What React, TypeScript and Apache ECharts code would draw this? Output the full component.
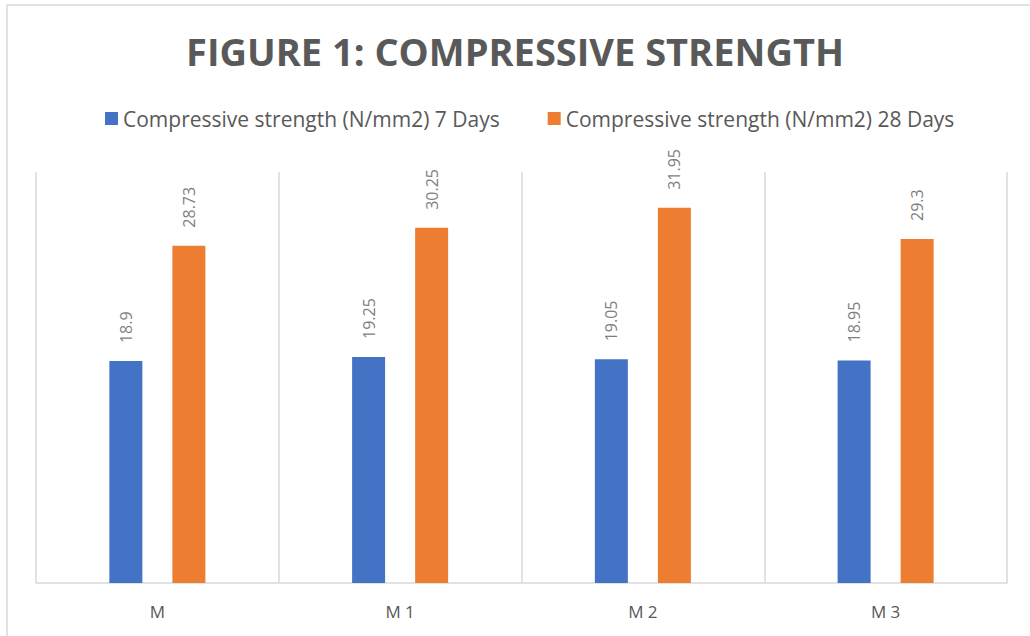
import React, { useEffect, useRef } from "react";
import * as echarts from "echarts";

const categories = ["M", "M 1", "M 2", "M 3"];
const seriesNames = [
  "Compressive strength (N/mm2) 7 Days",
  "Compressive strength (N/mm2) 28 Days",
];
const days7 = [18.9, 19.25, 19.05, 18.95];
const days28 = [28.73, 30.25, 31.95, 29.3];
const titleText = "FIGURE 1: COMPRESSIVE STRENGTH";

export default function App() {
  const ref = useRef<HTMLDivElement>(null);
  useEffect(() => {
    if (!ref.current) return;
    const chart = echarts.init(ref.current, undefined, { renderer: "svg" });
    const label = {
      show: true,
      position: "top",
      rotate: 90,
      align: "left",
      verticalAlign: "middle",
      distance: 18,
      color: "#7f7f7f",
      fontSize: 16,
      fontFamily: "Open Sans",
    };
    chart.setOption({
      animation: false,
      backgroundColor: "#ffffff",
      title: {
        text: titleText,
        left: "center",
        top: 27,
        textStyle: {
          fontFamily: "Open Sans",
          fontWeight: "bold",
          fontSize: 38,
          color: "#595959",
        },
      },
      legend: {
        top: 103,
        left: 100,
        itemWidth: 13,
        itemHeight: 13,
        itemGap: 48,
        icon: "rect",
        textStyle: {
          fontFamily: "Open Sans",
          fontSize: 21,
          color: "#595959",
        },
        data: seriesNames,
      },
      graphic: [
        {
          type: "rect",
          shape: { x: 7, y: 5, width: 1200, height: 800 },
          style: { fill: "none", stroke: "#d9d9d9", lineWidth: 1.5 },
          silent: true,
        },
      ],
      grid: { left: 36, right: 23, top: 172, bottom: 53 },
      xAxis: {
        type: "category",
        data: categories,
        axisLine: { lineStyle: { color: "#d9d9d9", width: 1.5 } },
        axisTick: { show: false },
        splitLine: { show: true, lineStyle: { color: "#d9d9d9", width: 1.5 } },
        axisLabel: {
          color: "#595959",
          fontSize: 17,
          fontFamily: "Open Sans",
          margin: 20,
        },
      },
      yAxis: {
        type: "value",
        min: 0,
        max: 35,
        interval: 5,
        axisLabel: { show: false },
        axisLine: { show: false },
        axisTick: { show: false },
        splitLine: { show: false },
      },
      series: [
        {
          name: seriesNames[0],
          type: "bar",
          data: days7,
          barWidth: 33,
          barGap: "91%",
          itemStyle: { color: "#4472C4" },
          label,
        },
        {
          name: seriesNames[1],
          type: "bar",
          data: days28,
          barWidth: 33,
          itemStyle: { color: "#ED7D31" },
          label,
        },
      ],
    });
    return () => chart.dispose();
  }, []);
  return (
    <div
      ref={ref}
      style={{ position: "fixed", left: 0, top: 0, width: 1030, height: 636 }}
    />
  );
}
